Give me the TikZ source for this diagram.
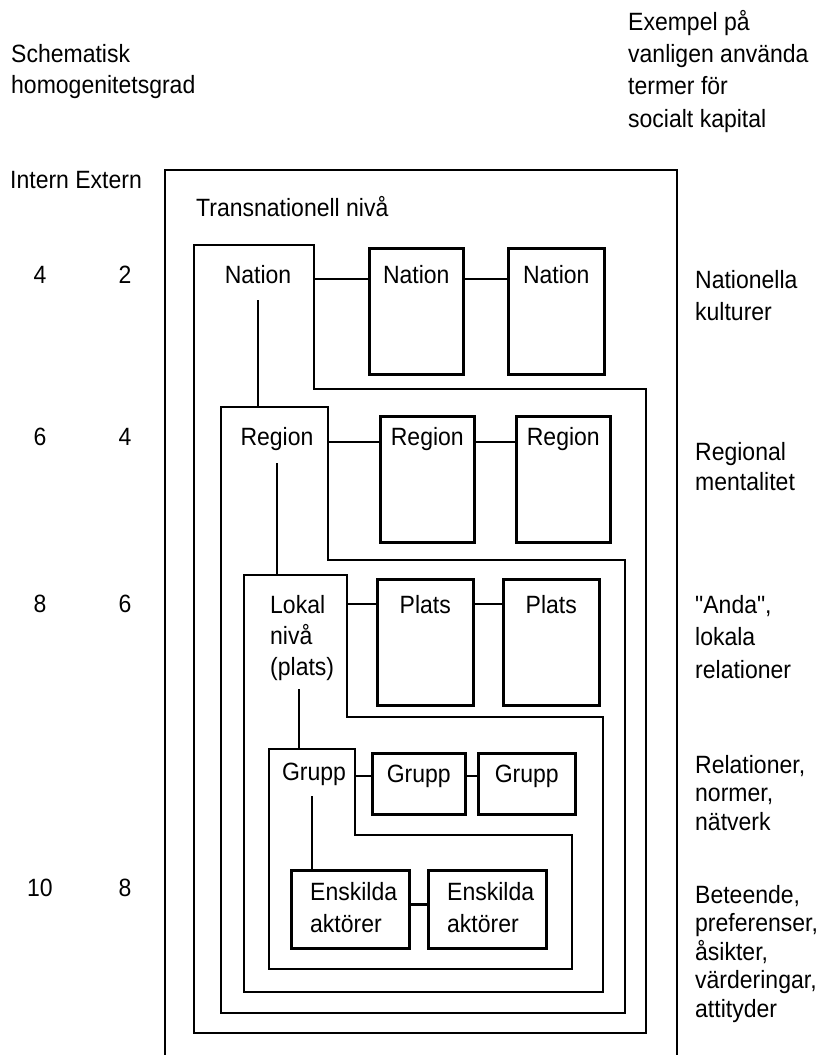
\documentclass[tikz,border=0pt]{standalone}
\usepackage{fontspec}
\setmainfont[FakeStretch=0.92, Ligatures=TeXOff]{Liberation Sans}
\usetikzlibrary{calc}
\newcommand{\fs}[1]{\fontsize{25}{#1}\selectfont}
\begin{document}
\begin{tikzpicture}[x=1pt,y=-1pt,
  ln/.style={line width=2.6pt, line join=miter, draw=black},
  bx/.style={draw=black, line width=2.6pt, anchor=north west, inner sep=0pt},
  txt/.style={font=\fs{30}, text=black, inner sep=0pt, anchor=base west, align=left},
  ctxt/.style={font=\fs{30}, text=black, inner sep=0pt, anchor=base},
]
\useasboundingbox (0,0) rectangle (820,1055);
\fill[white] (0,0) rectangle (820,1055);

% headings (base anchor = baseline of last line)
\node[txt, font=\fs{31}] (hl) at (11,93) {Schematisk\\homogenitetsgrad};
\node[txt, font=\fs{32.3}] (hr) at (628,127) {Exempel på\\vanligen använda\\termer för\\socialt kapital};
\node[txt] (ie) at (10,188) {Intern Extern};

% numbers
\node[ctxt] (i1) at (40,283) {4};   \node[ctxt] (e1) at (125,283) {2};
\node[ctxt] (i2) at (40,445) {6};   \node[ctxt] (e2) at (125,445) {4};
\node[ctxt] (i3) at (40,612) {8};   \node[ctxt] (e3) at (125,612) {6};
\node[ctxt] (i4) at (40,896) {10};  \node[ctxt] (e4) at (125,896) {8};

% right column
\node[txt, font=\fs{32}] (r1) at (695,320) {Nationella\\kulturer};
\node[txt, font=\fs{30}] (r2) at (695,490) {Regional\\mentalitet};
\node[txt, font=\fs{32.5}] (r3) at (695,678) {"Anda",\\lokala\\relationer};
\node[txt, font=\fs{28.5}] (r4) at (695,830) {Relationer,\\normer,\\nätverk};
\node[txt, font=\fs{28.5}] (r5) at (695,1017) {Beteende,\\preferenser,\\åsikter,\\värderingar,\\attityder};

% outer transnational box (open at the bottom)
\draw[ln] (165,1058) -- (165,170) -- (677,170) -- (677,1058);
\node[txt] (tn) at (196,216) {Transnationell nivå};

% nested L-shaped levels
\draw[ln] (194,1033) -- (194,245) -- (314,245) -- (314,389) -- (646,389) -- (646,1033) -- cycle;
\draw[ln] (221,1013) -- (221,407) -- (328,407) -- (328,560) -- (625,560) -- (625,1013) -- cycle;
\draw[ln] (244,992) -- (244,575) -- (347,575) -- (347,717) -- (603,717) -- (603,992) -- cycle;
\draw[ln] (269,969) -- (269,749) -- (355,749) -- (355,835) -- (572,835) -- (572,969) -- cycle;

\coordinate (natstep) at (314,279);
\coordinate (regstep) at (328,442);
\coordinate (lokstep) at (347,604);
\coordinate (grustep) at (355,776);
\coordinate (regtop) at (258,407);
\coordinate (loktop) at (277,575);
\coordinate (grutop) at (299,749);

% level labels
\node[ctxt] (nat1) at (258,283) {Nation};
\node[ctxt] (reg1) at (277,445) {Region};
\node[txt, font=\fs{31}] (lok1) at (270,675) {Lokal\\nivå\\(plats)};
\node[ctxt] (gru1) at (314,780) {Grupp};

% boxes
\node[bx, minimum width=94pt, minimum height=126pt] (nb2) at (368,247) {};
\node[bx, minimum width=96pt, minimum height=126pt] (nb3) at (507,247) {};
\node[bx, minimum width=94pt, minimum height=126pt] (rb2) at (379,415) {};
\node[bx, minimum width=94pt, minimum height=126pt] (rb3) at (515,415) {};
\node[bx, minimum width=96pt, minimum height=126pt] (pb2) at (376,578) {};
\node[bx, minimum width=96pt, minimum height=126pt] (pb3) at (502,578) {};
\node[bx, minimum width=93pt, minimum height=61pt] (gb2) at (371,752) {};
\node[bx, minimum width=97pt, minimum height=61pt] (gb3) at (477,752) {};
\node[bx, minimum width=118pt, minimum height=78pt] (eb1) at (290,869) {};
\node[bx, minimum width=118pt, minimum height=78pt] (eb2) at (427,869) {};

% box texts
\node[ctxt] (nt2) at (nb2.north |- 0,283) {Nation};
\node[ctxt] (nt3) at (nb3.north |- 0,283) {Nation};
\node[ctxt] (rt2) at (rb2.north |- 0,445) {Region};
\node[ctxt] (rt3) at (rb3.north |- 0,445) {Region};
\node[ctxt] (pt2) at (pb2.north |- 0,613) {Plats};
\node[ctxt] (pt3) at (pb3.north |- 0,613) {Plats};
\node[ctxt] (gt2) at (gb2.north |- 0,782) {Grupp};
\node[ctxt] (gt3) at (gb3.north |- 0,782) {Grupp};
\node[txt, font=\fs{32}] (et1) at (310,932) {Enskilda\\aktörer};
\node[txt, font=\fs{32}] (et2) at (447,932) {Enskilda\\aktörer};

% horizontal connectors
\draw[ln] (natstep) -- (natstep -| nb2.west);
\draw[ln] (nb2.east |- natstep) -- (nb3.west |- natstep);
\draw[ln] (regstep) -- (regstep -| rb2.west);
\draw[ln] (rb2.east |- regstep) -- (rb3.west |- regstep);
\draw[ln] (lokstep) -- (lokstep -| pb2.west);
\draw[ln] (pb2.east |- lokstep) -- (pb3.west |- lokstep);
\draw[ln] (grustep) -- (grustep -| gb2.west);
\draw[ln] (gb2.east |- grustep) -- (gb3.west |- grustep);
\draw[ln] ($(eb1.east)+(0,-5)$) -- ($(eb2.west)+(0,-5)$);

% vertical connectors
\draw[ln] ($(nat1.base)+(0,17)$) -- (regtop);
\draw[ln] ($(reg1.base)+(0,18)$) -- (loktop);
\draw[ln] ($(lok1.base west)+(29,14)$) -- (grutop);
\draw[ln] ($(gru1.base)+(-2,16)$) -- (eb1.north -| 312,0);
\end{tikzpicture}
\end{document}
